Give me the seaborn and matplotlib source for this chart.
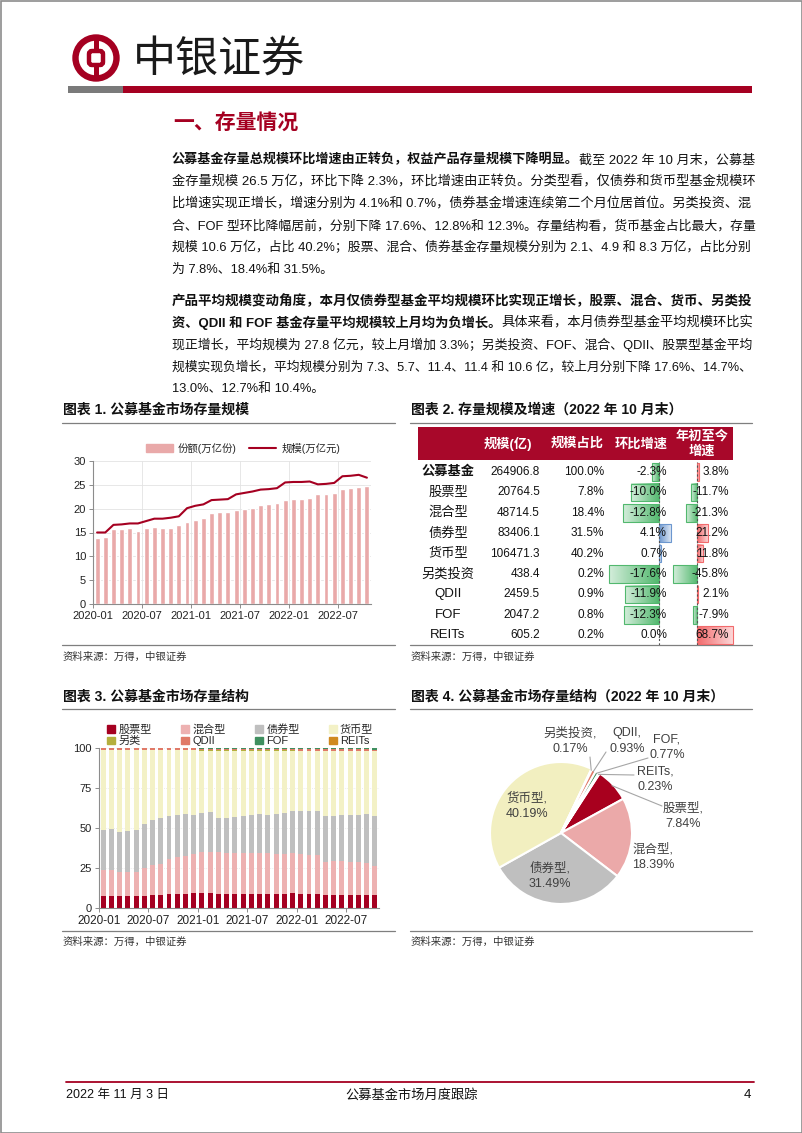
import numpy as np
import pandas as pd
import matplotlib
matplotlib.use("Agg")
import matplotlib.pyplot as plt
import seaborn as sns
from matplotlib.patches import Rectangle, Circle, Patch, FancyBboxPatch
from matplotlib.lines import Line2D
from matplotlib.colors import to_rgb

sns.set_theme(style="white")
plt.rcParams["font.family"] = ["Liberation Sans", "Noto Sans CJK SC"]
plt.rcParams["axes.unicode_minus"] = False

# ---------------- data ----------------
months = [f"{y}-{m:02d}" for y in (2020, 2021, 2022) for m in range(1, 13)][:34]
tick_labels = ["2020-01", "2020-07", "2021-01", "2021-07", "2022-01", "2022-07"]

# Chart 1: shares (万亿份) and scale (万亿元)
share_trn = [13.9, 14.1, 15.7, 15.7, 15.9, 15.4, 15.9, 16.2, 15.9, 16.0, 16.5, 17.3,
             17.7, 18.1, 19.1, 19.3, 19.4, 19.7, 20.0, 20.2, 20.7, 20.9, 21.1, 21.9,
             22.1, 22.1, 22.3, 23.0, 23.1, 23.3, 24.1, 24.3, 24.5, 24.7]
scale_trn = [15.0, 15.0, 16.6, 16.7, 16.9, 16.9, 17.4, 17.9, 17.9, 18.1, 18.4, 20.1,
             20.6, 20.9, 21.8, 21.9, 22.0, 23.0, 23.3, 23.6, 24.0, 24.1, 24.3, 25.5,
             25.6, 25.6, 25.7, 25.1, 25.2, 25.4, 26.8, 26.9, 27.1, 26.5]

# Chart 2: table
tbl_names = ["公募基金", "股票型", "混合型", "债券型", "货币型", "另类投资", "QDII", "FOF", "REITs"]
tbl_size = [264906.8, 20764.5, 48714.5, 83406.1, 106471.3, 438.4, 2459.5, 2047.2, 605.2]
tbl_share = [100.0, 7.8, 18.4, 31.5, 40.2, 0.2, 0.9, 0.8, 0.2]
tbl_mom = [-2.3, -10.0, -12.8, 4.1, 0.7, -17.6, -11.9, -12.3, 0.0]
tbl_ytd = [3.8, -11.7, -21.3, 21.2, 11.8, -45.8, 2.1, -7.9, 68.7]
tbl_headers = ["规模(亿)", "规模占比", "环比增速", "年初至今\n增速"]

# Chart 3: structure (%)
stack_names = ["股票型", "混合型", "债券型", "货币型", "另类", "QDII", "FOF", "REITs"]
stock_pct = [7.7, 7.7, 7.5, 7.4, 7.4, 7.7, 8.2, 8.2, 8.9, 8.7, 8.8, 9.3,
             9.2, 9.3, 8.5, 8.6, 8.6, 8.8, 8.8, 8.9, 8.9, 8.9, 9.0, 9.2,
             9.0, 9.0, 9.0, 7.9, 7.9, 7.9, 8.2, 8.3, 8.2, 7.84]
mixed_pct = [15.8, 15.9, 15.0, 15.0, 15.4, 17.0, 18.5, 19.3, 22.0, 23.0, 23.4, 24.3,
             25.6, 25.9, 26.5, 26.0, 25.7, 25.4, 25.5, 25.5, 25.2, 25.0, 25.0, 24.9,
             24.6, 24.4, 24.0, 21.0, 21.3, 21.2, 20.8, 20.6, 20.0, 18.39]
bond_pct = [25.5, 25.9, 25.3, 25.8, 26.0, 27.8, 28.3, 28.5, 26.6, 26.3, 26.3, 24.7,
            24.5, 24.6, 21.5, 21.9, 22.7, 23.6, 23.9, 24.1, 24.2, 24.9, 25.2, 26.4,
            26.9, 27.1, 27.5, 28.6, 28.6, 29.1, 29.2, 29.4, 30.3, 31.49]
money_pct = [49.6, 49.1, 50.8, 50.4, 49.8, 46.1, 43.6, 42.6, 41.1, 40.6, 40.1, 40.3,
             39.1, 38.6, 41.9, 41.9, 41.4, 40.5, 40.0, 39.8, 40.0, 39.5, 39.0, 37.8,
             37.4, 37.4, 37.4, 40.4, 40.2, 39.8, 39.8, 39.7, 39.5, 40.19]
alt_pct = [0.4, 0.4, 0.4, 0.4, 0.4, 0.4, 0.4, 0.4, 0.4, 0.4, 0.4, 0.4,
           0.3, 0.3, 0.3, 0.3, 0.3, 0.3, 0.3, 0.3, 0.3, 0.3, 0.3, 0.3,
           0.3, 0.3, 0.3, 0.3, 0.2, 0.2, 0.2, 0.2, 0.2, 0.17]
qdii_pct = [0.7, 0.7, 0.7, 0.7, 0.7, 0.7, 0.7, 0.7, 0.7, 0.7, 0.7, 0.7,
            0.8, 0.8, 0.8, 0.8, 0.8, 0.8, 0.8, 0.8, 0.8, 0.8, 0.8, 0.8,
            0.9, 0.9, 0.9, 0.9, 0.9, 0.9, 0.9, 0.9, 0.9, 0.93]
fof_pct = [0.3, 0.3, 0.3, 0.3, 0.3, 0.3, 0.3, 0.3, 0.3, 0.3, 0.3, 0.3,
           0.5, 0.5, 0.5, 0.5, 0.5, 0.5, 0.5, 0.5, 0.5, 0.5, 0.5, 0.5,
           0.7, 0.7, 0.7, 0.7, 0.7, 0.7, 0.7, 0.7, 0.7, 0.77]
reits_pct = [0.0, 0.0, 0.0, 0.0, 0.0, 0.0, 0.0, 0.0, 0.0, 0.0, 0.0, 0.0,
             0.0, 0.0, 0.0, 0.0, 0.0, 0.15, 0.15, 0.15, 0.15, 0.15, 0.15, 0.15,
             0.2, 0.2, 0.2, 0.2, 0.2, 0.2, 0.2, 0.2, 0.2, 0.23]

# Chart 4: pie (2022-10)
pie_names = ["股票型", "混合型", "债券型", "货币型", "另类投资", "QDII", "FOF", "REITs"]
pie_values = [7.84, 18.39, 31.49, 40.19, 0.17, 0.93, 0.77, 0.23]

# ---------------- styles ----------------
RED = "#A50021"
PINK = "#E9A9A9"
stack_colors = ["#A50021", "#EDB1B1", "#BFBFBF", "#F3F1C6", "#B5AF3E", "#E07A68", "#3F8F5F", "#D0891F"]
pie_colors = ["#A8001E", "#EBA9A9", "#BFBFBF", "#F2EFC0", "#B5AF3E", "#E07A68", "#3F8F5F", "#D0891F"]

W, H = 802, 1133
fig = plt.figure(figsize=(W / 100, H / 100), dpi=100)
fig.patch.set_facecolor("white")
page = fig.add_axes([0, 0, 1, 1], zorder=0)
page.set_xlim(0, W)
page.set_ylim(H, 0)
page.set_autoscale_on(False)
page.axis("off")
page.patch.set_visible(False)
renderer = fig.canvas.get_renderer()


def ax_px(x0, y0, x1, y1, **kw):
    return fig.add_axes([x0 / W, 1 - y1 / H, (x1 - x0) / W, (y1 - y0) / H], **kw)


# page border
page.add_patch(Rectangle((0.5, 0.5), W - 1, H - 1, fill=False, ec="#8c8c8c", lw=1.2))

# ---------------- header ----------------
cx, cy = 96, 58
page.add_patch(Circle((cx, cy), 20.5, fill=False, ec=RED, lw=4.6))
page.add_patch(Rectangle((cx - 2.5, cy - 21), 5, 42, color=RED, lw=0))
page.add_patch(FancyBboxPatch((cx - 7, cy - 7), 14, 14, boxstyle="round,pad=0,rounding_size=3",
                              fc="white", ec=RED, lw=3.2))
page.text(133, 60, "中银证券", fontsize=31, ha="left", va="center", color="#1a1a1a",
          family=["Noto Sans CJK SC"])
page.add_patch(Rectangle((68, 86), 55, 7, color="#7a7a7a", lw=0))
page.add_patch(Rectangle((123, 86), 629, 7, color=RED, lw=0))
page.text(173, 124, "一、存量情况", fontsize=15, fontweight="bold", ha="left", va="center", color=RED)

# ---------------- body text ----------------
BODY_FS = 9.3
X0, X1 = 172, 752


def body_line(y, segs, justify=True):
    objs = [page.text(0, y, t, fontsize=BODY_FS, fontweight="bold" if b else "normal",
                      ha="left", va="center", color="#111111") for t, b in segs]
    tot = sum(o.get_window_extent(renderer).width for o in objs)
    fs = BODY_FS
    if justify:
        fs = min(max(BODY_FS * (X1 - X0) / tot, BODY_FS * 0.9), BODY_FS * 1.1)
    x = X0
    for o in objs:
        o.set_fontsize(fs)
        o.set_x(x)
        x += o.get_window_extent(renderer).width


para1 = [
    [("公募基金存量总规模环比增速由正转负，权益产品存量规模下降明显。", True), ("截至 2022 年 10 月末，公募基", False)],
    [("金存量规模 26.5 万亿，环比下降 2.3%，环比增速由正转负。分类型看，仅债券和货币型基金规模环", False)],
    [("比增速实现正增长，增速分别为 4.1%和 0.7%，债券基金增速连续第二个月位居首位。另类投资、混", False)],
    [("合、FOF 型环比降幅居前，分别下降 17.6%、12.8%和 12.3%。存量结构看，货币基金占比最大，存量", False)],
    [("规模 10.6 万亿，占比 40.2%；股票、混合、债券基金存量规模分别为 2.1、4.9 和 8.3 万亿，占比分别", False)],
    [("为 7.8%、18.4%和 31.5%。", False)],
]
para2 = [
    [("产品平均规模变动角度，本月仅债券型基金平均规模环比实现正增长，股票、混合、货币、另类投", True)],
    [("资、QDII 和 FOF 基金存量平均规模较上月均为负增长。", True), ("具体来看，本月债券型基金平均规模环比实", False)],
    [("现正增长，平均规模为 27.8 亿元，较上月增加 3.3%；另类投资、FOF、混合、QDII、股票型基金平均", False)],
    [("规模实现负增长，平均规模分别为 7.3、5.7、11.4、11.4 和 10.6 亿，较上月分别下降 17.6%、14.7%、", False)],
    [("13.0%、12.7%和 10.4%。", False)],
]
for i, segs in enumerate(para1):
    body_line(160 + 22 * i, segs, justify=(i < len(para1) - 1))
for i, segs in enumerate(para2):
    body_line(301 + 22 * i, segs, justify=(i < len(para2) - 1))


# ---------------- panel frames ----------------
def panel_frame(x0, x1, y_title, y_line, y_bot, y_src, title):
    page.text(x0 + 1, y_title, title, fontsize=10, fontweight="bold", ha="left", va="center", color="#111111")
    page.plot([x0, x1], [y_line, y_line], color="#7f7f7f", lw=0.9)
    page.plot([x0, x1], [y_bot, y_bot], color="#7f7f7f", lw=0.9)
    page.text(x0 + 1, y_src, "资料来源：万得，中银证券", fontsize=7.5, style="italic", ha="left",
              va="center", color="#333333")


panel_frame(62, 395, 410, 423, 645, 657, "图表 1. 公募基金市场存量规模")
panel_frame(410, 752, 410, 423, 645, 657, "图表 2. 存量规模及增速（2022 年 10 月末）")
panel_frame(62, 395, 697, 709, 931, 942, "图表 3. 公募基金市场存量结构")
panel_frame(410, 752, 697, 709, 931, 942, "图表 4. 公募基金市场存量结构（2022 年 10 月末）")

xpos = np.arange(len(months))
tick_pos = [-0.5, 5.5, 11.5, 17.5, 23.5, 29.5]

# ---------------- chart 1 ----------------
ax1 = ax_px(93, 461, 371, 604, zorder=2)
sns.barplot(x=xpos, y=share_trn, native_scale=True, color=PINK, saturation=1, width=0.6,
            ax=ax1, zorder=2)
sns.lineplot(x=xpos, y=scale_trn, color=RED, lw=1.5, ax=ax1, zorder=3)
ax1.set_xlim(-0.5, 33.5)
ax1.set_ylim(0, 30)
ax1.set_yticks([0, 5, 10, 15, 20, 25, 30])
ax1.set_xticks(tick_pos)
ax1.set_xticklabels(tick_labels)
ax1.set_xlabel("")
ax1.set_ylabel("")
ax1.grid(True, color="#E3E3E3", lw=0.6, zorder=0)
ax1.set_axisbelow(True)
sns.despine(ax=ax1)
for s in ("left", "bottom"):
    ax1.spines[s].set_color("#8c8c8c")
    ax1.spines[s].set_linewidth(0.8)
ax1.tick_params(axis="both", labelsize=8, colors="#222222", length=3, width=0.7, direction="out",
                left=True, bottom=True, pad=2)
ax1.tick_params(axis="both", color="#8c8c8c")
h1 = [Patch(color=PINK, label="份额(万亿份)"), Line2D([], [], color=RED, lw=1.5, label="规模(万亿元)")]
ax1.legend(handles=h1, loc="center", bbox_to_anchor=(0.54, 1.09), ncol=2, frameon=False,
           fontsize=7.5, handlelength=2.6, handleheight=0.7, columnspacing=1.2, handletextpad=0.5)

# ---------------- chart 2: table ----------------
page.add_patch(Rectangle((418, 427), 315, 33, color="#A8082A", lw=0))
hdr_x = [508, 577, 641, 702]
for hx, ht in zip(hdr_x, tbl_headers):
    page.text(hx, 444, ht, fontsize=9.5, fontweight="bold", color="white", ha="center", va="center",
              linespacing=1.25)

row_y = [472 + 20.4 * i for i in range(len(tbl_names))]
for i, y in enumerate(row_y):
    page.text(448, y, tbl_names[i], fontsize=9.5, fontweight="bold" if i == 0 else "normal",
              ha="center", va="center", color="#111111")
    page.text(540, y, f"{tbl_size[i]:.1f}", fontsize=8.5, ha="right", va="center", color="#111111", zorder=5)
    page.text(604, y, f"{tbl_share[i]:.1f}%", fontsize=8.5, ha="right", va="center", color="#111111", zorder=5)

axm = ax_px(605, 461.8, 678, 645.4, zorder=1)
axy = ax_px(668, 461.8, 736, 645.4, zorder=1)


def grad_bars(ax, vals, pos_col, neg_col, xlim):
    bars = ax.barh(np.arange(len(vals)), vals, height=0.86, color="none")
    for p, v in zip(bars.patches, vals):
        if v == 0:
            p.set_visible(False)
            continue
        c = np.array(to_rgb(pos_col if v > 0 else neg_col))
        light = c * 0.25 + 0.75
        t = np.linspace(0, 1, 64)[:, None]
        cols = c[None, :] * (1 - t) + light[None, :] * t
        if v < 0:
            cols = cols[::-1]
        img = np.concatenate([cols, np.ones((64, 1))], axis=1)[None, :, :]
        x0, w = p.get_x(), p.get_width()
        y0, h = p.get_y(), p.get_height()
        ax.imshow(img, extent=(min(x0, x0 + w), max(x0, x0 + w), y0 + h, y0), aspect="auto",
                  interpolation="bilinear", zorder=1)
        p.set_edgecolor(c)
        p.set_linewidth(0.8)
        p.set_zorder(2)
    ax.axvline(0, color="#555555", lw=0.8, ls=(0, (2, 2)), zorder=3)
    ax.set_xlim(*xlim)
    ax.set_ylim(len(vals) - 0.5, -0.5)
    ax.axis("off")


grad_bars(axm, tbl_mom, "#6C97CF", "#52B86E", (-19.01, 6.69))
grad_bars(axy, tbl_ytd, "#F26A6C", "#52B86E", (-54.7, 73.6))
txt_ax = ax_px(0, 0, W, H, zorder=4)
txt_ax.set_xlim(0, W)
txt_ax.set_ylim(H, 0)
txt_ax.axis("off")
for i, y in enumerate(row_y):
    txt_ax.text(667, y, f"{tbl_mom[i]:.1f}%", fontsize=8.5, ha="right", va="center", color="#111111")
    txt_ax.text(729, y, f"{tbl_ytd[i]:.1f}%", fontsize=8.5, ha="right", va="center", color="#111111")

# ---------------- chart 3 ----------------
ax3 = ax_px(99, 748, 379, 908, zorder=2)
stack_vals = [stock_pct, mixed_pct, bond_pct, money_pct, alt_pct, qdii_pct, fof_pct, reits_pct]
bottom = np.zeros(len(months))
for name, vals, col in zip(stack_names, stack_vals, stack_colors):
    vals = np.asarray(vals)
    ax3.bar(xpos, vals, bottom=bottom, width=0.6, color=col, label=name, lw=0, zorder=2)
    bottom = bottom + vals
ax3.set_xlim(-0.5, 33.5)
ax3.set_ylim(0, 100)
ax3.set_yticks([0, 25, 50, 75, 100])
ax3.set_xticks(tick_pos)
ax3.set_xticklabels(tick_labels)
ax3.grid(axis="y", color="#E6E6E6", lw=0.6, ls=(0, (1, 1.5)), zorder=0)
ax3.set_axisbelow(True)
sns.despine(ax=ax3)
for s in ("left", "bottom"):
    ax3.spines[s].set_color("#8c8c8c")
    ax3.spines[s].set_linewidth(0.8)
ax3.tick_params(axis="y", labelsize=8, colors="#222222", length=3, width=0.7, left=True, pad=2)
ax3.tick_params(axis="x", labelsize=8.5, colors="#222222", length=3, width=0.7, bottom=True, pad=2)
ax3.tick_params(axis="both", color="#8c8c8c")
hs = [Patch(color=c, label=n) for n, c in zip(stack_names, stack_colors)]
order = [0, 4, 1, 5, 2, 6, 3, 7]
ax3.legend(handles=[hs[k] for k in order], loc="lower left", bbox_to_anchor=(0.03, 1.01, 0.95, 0.17),
           mode="expand", ncol=4, frameon=False, fontsize=8, handlelength=0.7, handleheight=0.7,
           handletextpad=0.3, labelspacing=0.15, borderaxespad=0, borderpad=0)

# ---------------- chart 4: pie ----------------
PCX, PCY, PR = 561, 833, 71
axp = ax_px(PCX - 130, PCY - 130, PCX + 130, PCY + 130, zorder=2)
wedges, _ = axp.pie(pie_values, colors=pie_colors, startangle=57, counterclock=False, radius=1,
                    wedgeprops=dict(edgecolor="white", linewidth=1.5))
lim = 130 / PR
axp.set_xlim(-lim, lim)
axp.set_ylim(-lim, lim)
axp.set_aspect("equal")
axp.axis("off")


def to_d(px, py):
    return ((px - PCX) / PR, (PCY - py) / PR)


label_px = [(683, 816), (653, 857), (550, 876), (527, 806), (570, 741), (627, 741), (667, 747), (655, 779)]
leader_px = [(662, 806), None, None, None, (590, 757), (606, 752), (648, 758), (634, 775)]
for w, name, val, lp, ld in zip(wedges, pie_names, pie_values, label_px, leader_px):
    axp.text(*to_d(*lp), f"{name},\n{val:.2f}%", fontsize=9, ha="center", va="center",
             color="#404040", linespacing=1.35)
    if ld is not None:
        ang = np.deg2rad((w.theta1 + w.theta2) / 2)
        axp.annotate("", xy=(0.98 * np.cos(ang), 0.98 * np.sin(ang)), xytext=to_d(*ld),
                     arrowprops=dict(arrowstyle="-", color="#A6A6A6", lw=0.8, shrinkA=0, shrinkB=0))

# ---------------- footer ----------------
page.plot([66, 754], [1082, 1082], color=RED, lw=1.3)
page.text(66, 1095, "2022 年 11 月 3 日", fontsize=9, ha="left", va="center", color="#111111")
page.text(412, 1095, "公募基金市场月度跟踪", fontsize=9.5, ha="center", va="center", color="#111111")
page.text(751, 1095, "4", fontsize=9.5, ha="right", va="center", color="#111111")

fig.savefig("out.png", dpi=100, facecolor="white")
